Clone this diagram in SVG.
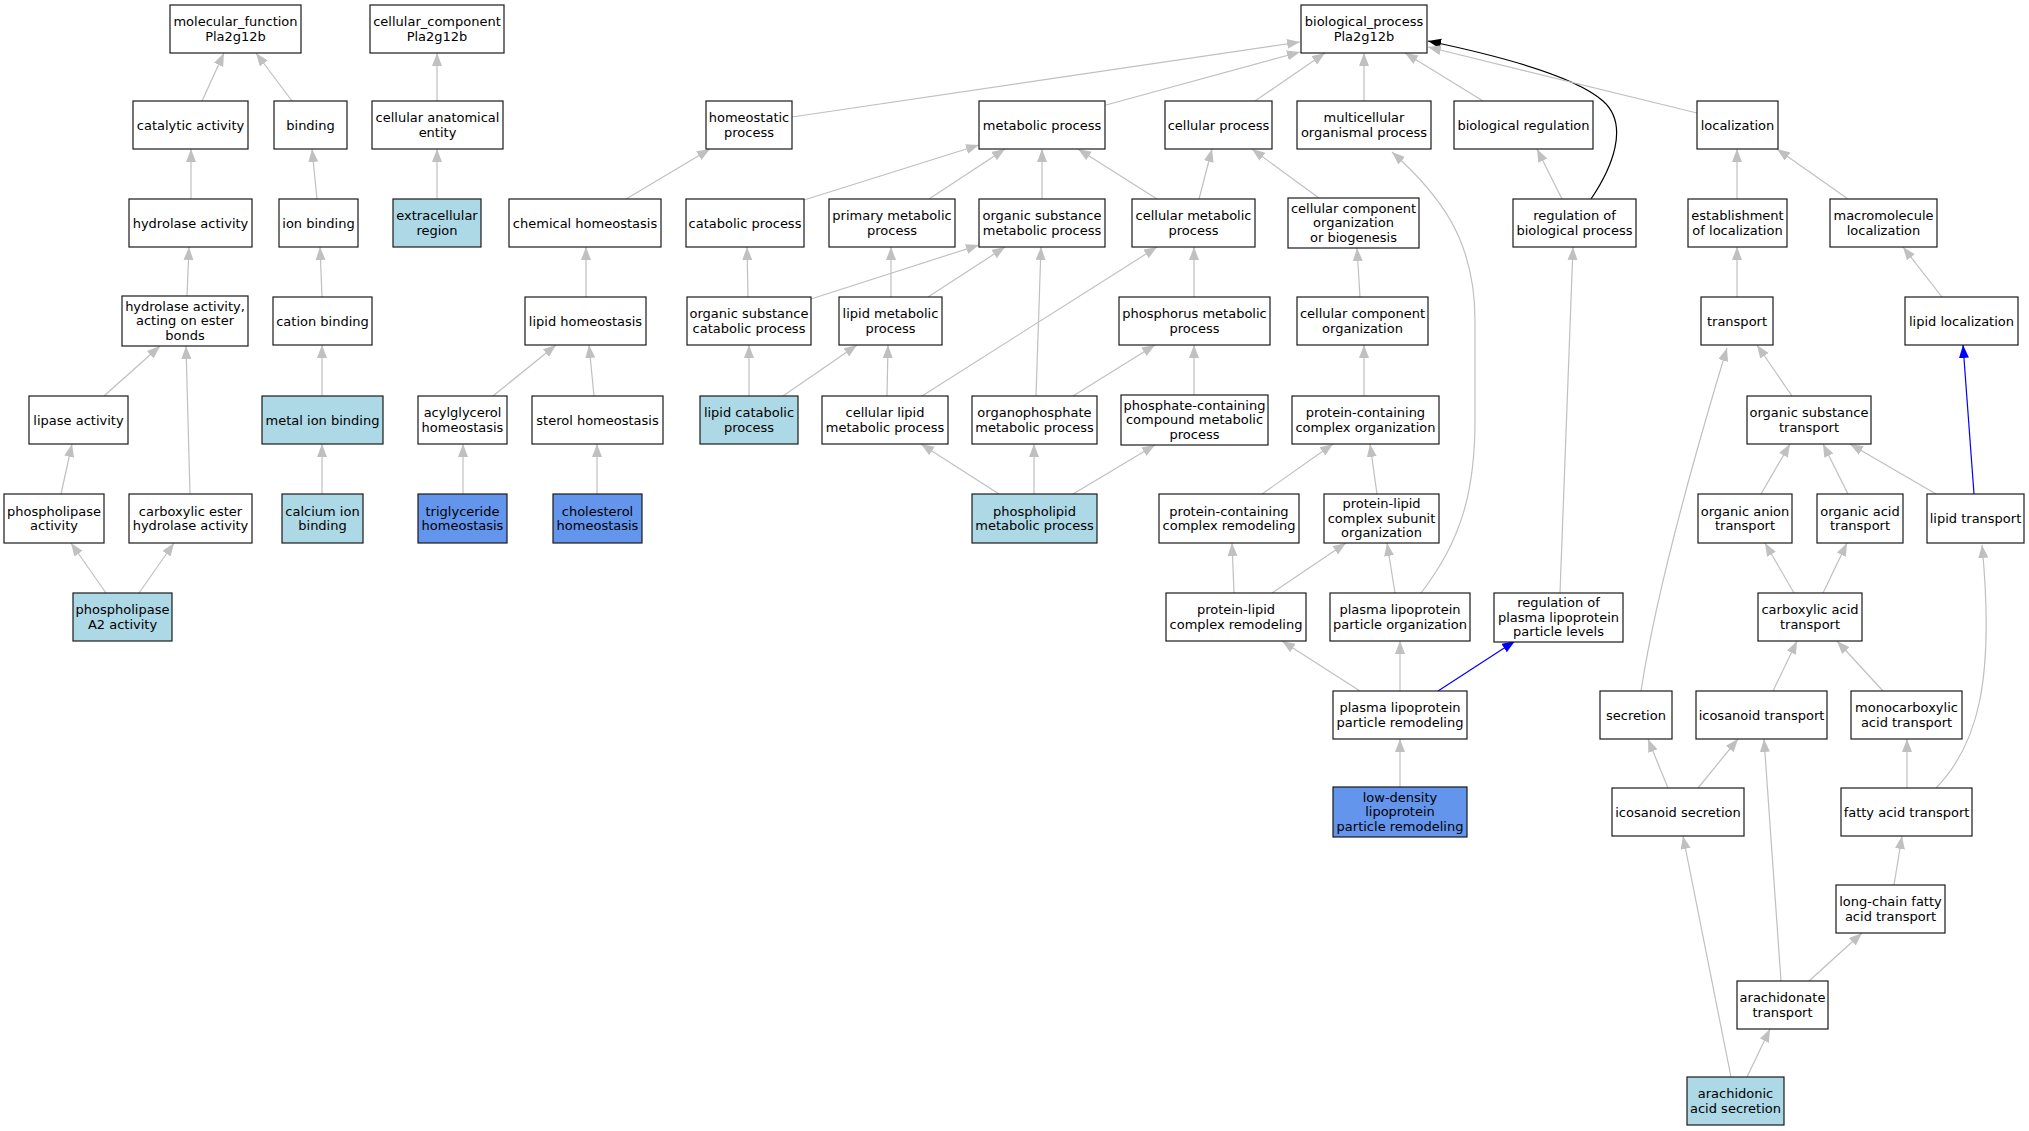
<svg xmlns="http://www.w3.org/2000/svg" width="2029" height="1131" viewBox="0 0 2029 1131">
<defs>
<style>
.node rect{fill:#ffffff;stroke:#1a1a1a;stroke-width:1.2}
.node.lb rect{fill:#add8e6}
.node.cb rect{fill:#6495ed}
.node text{font-family:"DejaVu Sans","Liberation Sans",sans-serif;font-size:13px;text-anchor:middle;fill:#000}
.edges path{fill:none;stroke:#c0c0c0;stroke-width:1.2;marker-end:url(#ag)}
.edges path.blue{stroke:#0000ff;marker-end:url(#ab)}
.edges path.black{stroke:#000000;marker-end:url(#ak)}
</style>
<marker id="ag" markerUnits="userSpaceOnUse" markerWidth="14" markerHeight="11" refX="13" refY="5" orient="auto"><path d="M0,0 L13,5 L0,10 z" fill="#c0c0c0"/></marker>
<marker id="ab" markerUnits="userSpaceOnUse" markerWidth="14" markerHeight="11" refX="13" refY="5" orient="auto"><path d="M0,0 L13,5 L0,10 z" fill="#0000ff"/></marker>
<marker id="ak" markerUnits="userSpaceOnUse" markerWidth="14" markerHeight="11" refX="13" refY="5" orient="auto"><path d="M0,0 L13,5 L0,10 z" fill="#000000"/></marker>
</defs>
<rect width="2029" height="1131" fill="#ffffff"/>
<g id="edges" class="edges">
<path d="M202,101 L224,53"/>
<path d="M292,101 L256,53"/>
<path d="M191,199 L191,149"/>
<path d="M317,199 L312,149"/>
<path d="M437,199 L437,149"/>
<path d="M437,101 L437,53"/>
<path d="M187,296 L189,247"/>
<path d="M322,297 L320,247"/>
<path d="M104,396 L160,346"/>
<path d="M190,494 L186,346"/>
<path d="M322,396 L322,345"/>
<path d="M61,494 L72,444"/>
<path d="M322,494 L322,444"/>
<path d="M106,593 L71,543"/>
<path d="M139,593 L174,543"/>
<path d="M792,117 L1300,42"/>
<path d="M626,199 L710,149"/>
<path d="M586,297 L586,247"/>
<path d="M493,396 L556,345"/>
<path d="M594,396 L589,345"/>
<path d="M463,494 L463,444"/>
<path d="M597,494 L597,444"/>
<path d="M1106,105 L1300,52"/>
<path d="M804,200 L979,145"/>
<path d="M929,199 L1005,149"/>
<path d="M1042,199 L1042,149"/>
<path d="M1157,199 L1078,149"/>
<path d="M748,297 L747,247"/>
<path d="M811,299 L979,245"/>
<path d="M891,297 L891,247"/>
<path d="M928,297 L1005,247"/>
<path d="M749,396 L749,345"/>
<path d="M783,396 L857,345"/>
<path d="M887,396 L888,345"/>
<path d="M922,396 L1157,247"/>
<path d="M1199,199 L1212,149"/>
<path d="M1255,101 L1325,53"/>
<path d="M1194,297 L1194,247"/>
<path d="M1036,396 L1041,247"/>
<path d="M1073,396 L1155,345"/>
<path d="M1194,395 L1194,345"/>
<path d="M999,494 L921,444"/>
<path d="M1034,494 L1034,444"/>
<path d="M1073,494 L1155,445"/>
<path d="M1319,198 L1252,149"/>
<path d="M1360,297 L1357,248"/>
<path d="M1364,396 L1364,345"/>
<path d="M1262,494 L1333,444"/>
<path d="M1377,494 L1370,444"/>
<path d="M1234,593 L1232,543"/>
<path d="M1272,593 L1346,543"/>
<path d="M1395,593 L1387,543"/>
<path d="M1421,593 C1462,540 1475,490 1475,420 L1475,320 C1475,240 1440,195 1392,152"/>
<path d="M1360,691 L1282,641"/>
<path d="M1400,691 L1400,641"/>
<path class="blue" d="M1438,691 L1515,641"/>
<path d="M1400,787 L1400,739"/>
<path d="M1483,101 L1405,53"/>
<path d="M1364,101 L1364,53"/>
<path d="M1562,199 L1537,149"/>
<path class="black" d="M1591,199 C1612,168 1630,125 1603,101 C1575,76 1500,56 1428,41"/>
<path d="M1560,593 L1573,247"/>
<path d="M1697,113 L1428,47"/>
<path d="M1737,199 L1737,149"/>
<path d="M1848,199 L1777,149"/>
<path d="M1737,297 L1737,247"/>
<path d="M1942,297 L1903,247"/>
<path class="blue" d="M1974,494 L1963,345"/>
<path d="M1792,396 L1757,345"/>
<path d="M1641,691 C1655,600 1690,470 1727,348"/>
<path d="M1761,494 L1790,444"/>
<path d="M1848,494 L1823,444"/>
<path d="M1936,494 L1850,444"/>
<path d="M1794,593 L1765,543"/>
<path d="M1823,593 L1847,543"/>
<path d="M1773,691 L1797,641"/>
<path d="M1883,691 L1837,641"/>
<path d="M1936,788 C1978,745 1995,680 1982,545"/>
<path d="M1907,788 L1907,739"/>
<path d="M1668,788 L1648,739"/>
<path d="M1698,788 L1738,739"/>
<path d="M1781,981 L1764,739"/>
<path d="M1894,885 L1902,836"/>
<path d="M1809,981 L1862,933"/>
<path d="M1731,1077 L1683,836"/>
<path d="M1747,1077 L1770,1029"/>
</g>
<g id="n_mf" class="node"><rect x="170" y="5" width="131" height="48"/><text><tspan x="235.5" y="26">molecular_function</tspan><tspan x="235.5" y="40.5">Pla2g12b</tspan></text></g>
<g id="n_cc" class="node"><rect x="370" y="5" width="134" height="48"/><text><tspan x="437" y="26">cellular_component</tspan><tspan x="437" y="40.5">Pla2g12b</tspan></text></g>
<g id="n_bp" class="node"><rect x="1301" y="5" width="126" height="48"/><text><tspan x="1364" y="26">biological_process</tspan><tspan x="1364" y="40.5">Pla2g12b</tspan></text></g>
<g id="n_catalytic" class="node"><rect x="133" y="101" width="115" height="48"/><text x="190.5" y="129.5">catalytic activity</text></g>
<g id="n_binding" class="node"><rect x="274" y="101" width="73" height="48"/><text x="310.5" y="129.5">binding</text></g>
<g id="n_cae" class="node"><rect x="372" y="101" width="131" height="48"/><text><tspan x="437.5" y="122">cellular anatomical</tspan><tspan x="437.5" y="136.5">entity</tspan></text></g>
<g id="n_homeostatic" class="node"><rect x="706" y="101" width="86" height="48"/><text><tspan x="749" y="122">homeostatic</tspan><tspan x="749" y="136.5">process</tspan></text></g>
<g id="n_metabolic" class="node"><rect x="979" y="101" width="126" height="48"/><text x="1042" y="129.5">metabolic process</text></g>
<g id="n_cellular" class="node"><rect x="1165" y="101" width="107" height="48"/><text x="1218.5" y="129.5">cellular process</text></g>
<g id="n_multicellular" class="node"><rect x="1297" y="101" width="134" height="48"/><text><tspan x="1364" y="122">multicellular</tspan><tspan x="1364" y="136.5">organismal process</tspan></text></g>
<g id="n_bioreg" class="node"><rect x="1454" y="101" width="139" height="48"/><text x="1523.5" y="129.5">biological regulation</text></g>
<g id="n_localization" class="node"><rect x="1697" y="101" width="81" height="48"/><text x="1737.5" y="129.5">localization</text></g>
<g id="n_hydrolase" class="node"><rect x="129" y="199" width="123" height="48"/><text x="190.5" y="227.5">hydrolase activity</text></g>
<g id="n_ionbinding" class="node"><rect x="279" y="199" width="79" height="48"/><text x="318.5" y="227.5">ion binding</text></g>
<g id="n_extracellular" class="node lb"><rect x="393" y="199" width="88" height="48"/><text><tspan x="437" y="220">extracellular</tspan><tspan x="437" y="234.5">region</tspan></text></g>
<g id="n_chemhomeo" class="node"><rect x="509" y="199" width="152" height="48"/><text x="585" y="227.5">chemical homeostasis</text></g>
<g id="n_catabolic" class="node"><rect x="686" y="199" width="118" height="48"/><text x="745" y="227.5">catabolic process</text></g>
<g id="n_primary" class="node"><rect x="829" y="199" width="126" height="48"/><text><tspan x="892" y="220">primary metabolic</tspan><tspan x="892" y="234.5">process</tspan></text></g>
<g id="n_orgsubmet" class="node"><rect x="979" y="199" width="126" height="48"/><text><tspan x="1042" y="220">organic substance</tspan><tspan x="1042" y="234.5">metabolic process</tspan></text></g>
<g id="n_cellmet" class="node"><rect x="1132" y="199" width="123" height="48"/><text><tspan x="1193.5" y="220">cellular metabolic</tspan><tspan x="1193.5" y="234.5">process</tspan></text></g>
<g id="n_ccob" class="node"><rect x="1288" y="198" width="131" height="50"/><text><tspan x="1353.5" y="212.5">cellular component</tspan><tspan x="1353.5" y="227">organization</tspan><tspan x="1353.5" y="241.5">or biogenesis</tspan></text></g>
<g id="n_regbio" class="node"><rect x="1513" y="199" width="123" height="48"/><text><tspan x="1574.5" y="220">regulation of</tspan><tspan x="1574.5" y="234.5">biological process</tspan></text></g>
<g id="n_estloc" class="node"><rect x="1688" y="199" width="99" height="48"/><text><tspan x="1737.5" y="220">establishment</tspan><tspan x="1737.5" y="234.5">of localization</tspan></text></g>
<g id="n_macroloc" class="node"><rect x="1830" y="199" width="107" height="48"/><text><tspan x="1883.5" y="220">macromolecule</tspan><tspan x="1883.5" y="234.5">localization</tspan></text></g>
<g id="n_hydester" class="node"><rect x="122" y="296" width="126" height="50"/><text><tspan x="185" y="310.5">hydrolase activity,</tspan><tspan x="185" y="325">acting on ester</tspan><tspan x="185" y="339.5">bonds</tspan></text></g>
<g id="n_cation" class="node"><rect x="273" y="297" width="99" height="48"/><text x="322.5" y="325.5">cation binding</text></g>
<g id="n_lipidhomeo" class="node"><rect x="525" y="297" width="121" height="48"/><text x="585.5" y="325.5">lipid homeostasis</text></g>
<g id="n_orgsubcat" class="node"><rect x="687" y="297" width="124" height="48"/><text><tspan x="749" y="318">organic substance</tspan><tspan x="749" y="332.5">catabolic process</tspan></text></g>
<g id="n_lipidmet" class="node"><rect x="839" y="297" width="103" height="48"/><text><tspan x="890.5" y="318">lipid metabolic</tspan><tspan x="890.5" y="332.5">process</tspan></text></g>
<g id="n_phosphorus" class="node"><rect x="1119" y="297" width="151" height="48"/><text><tspan x="1194.5" y="318">phosphorus metabolic</tspan><tspan x="1194.5" y="332.5">process</tspan></text></g>
<g id="n_cco" class="node"><rect x="1297" y="297" width="131" height="48"/><text><tspan x="1362.5" y="318">cellular component</tspan><tspan x="1362.5" y="332.5">organization</tspan></text></g>
<g id="n_transport" class="node"><rect x="1701" y="297" width="72" height="48"/><text x="1737" y="325.5">transport</text></g>
<g id="n_lipidloc" class="node"><rect x="1905" y="297" width="113" height="48"/><text x="1961.5" y="325.5">lipid localization</text></g>
<g id="n_lipase" class="node"><rect x="29" y="396" width="99" height="48"/><text x="78.5" y="424.5">lipase activity</text></g>
<g id="n_metalion" class="node lb"><rect x="262" y="396" width="121" height="48"/><text x="322.5" y="424.5">metal ion binding</text></g>
<g id="n_acylglycerol" class="node"><rect x="418" y="396" width="89" height="48"/><text><tspan x="462.5" y="417">acylglycerol</tspan><tspan x="462.5" y="431.5">homeostasis</tspan></text></g>
<g id="n_sterol" class="node"><rect x="532" y="396" width="131" height="48"/><text x="597.5" y="424.5">sterol homeostasis</text></g>
<g id="n_lipidcat" class="node lb"><rect x="700" y="396" width="98" height="48"/><text><tspan x="749" y="417">lipid catabolic</tspan><tspan x="749" y="431.5">process</tspan></text></g>
<g id="n_celllipid" class="node"><rect x="822" y="396" width="126" height="48"/><text><tspan x="885" y="417">cellular lipid</tspan><tspan x="885" y="431.5">metabolic process</tspan></text></g>
<g id="n_organophos" class="node"><rect x="972" y="396" width="125" height="48"/><text><tspan x="1034.5" y="417">organophosphate</tspan><tspan x="1034.5" y="431.5">metabolic process</tspan></text></g>
<g id="n_phoscont" class="node"><rect x="1121" y="395" width="147" height="50"/><text><tspan x="1194.5" y="409.5">phosphate-containing</tspan><tspan x="1194.5" y="424">compound metabolic</tspan><tspan x="1194.5" y="438.5">process</tspan></text></g>
<g id="n_pcco" class="node"><rect x="1292" y="396" width="147" height="48"/><text><tspan x="1365.5" y="417">protein-containing</tspan><tspan x="1365.5" y="431.5">complex organization</tspan></text></g>
<g id="n_orgsubtrans" class="node"><rect x="1747" y="396" width="124" height="48"/><text><tspan x="1809" y="417">organic substance</tspan><tspan x="1809" y="431.5">transport</tspan></text></g>
<g id="n_phospholipase" class="node"><rect x="4" y="494" width="100" height="49"/><text><tspan x="54" y="515.5">phospholipase</tspan><tspan x="54" y="530">activity</tspan></text></g>
<g id="n_carbester" class="node"><rect x="129" y="494" width="123" height="49"/><text><tspan x="190.5" y="515.5">carboxylic ester</tspan><tspan x="190.5" y="530">hydrolase activity</tspan></text></g>
<g id="n_calcium" class="node lb"><rect x="282" y="494" width="81" height="49"/><text><tspan x="322.5" y="515.5">calcium ion</tspan><tspan x="322.5" y="530">binding</tspan></text></g>
<g id="n_triglyceride" class="node cb"><rect x="418" y="494" width="89" height="49"/><text><tspan x="462.5" y="515.5">triglyceride</tspan><tspan x="462.5" y="530">homeostasis</tspan></text></g>
<g id="n_cholesterol" class="node cb"><rect x="553" y="494" width="89" height="49"/><text><tspan x="597.5" y="515.5">cholesterol</tspan><tspan x="597.5" y="530">homeostasis</tspan></text></g>
<g id="n_phospholipid" class="node lb"><rect x="972" y="494" width="125" height="49"/><text><tspan x="1034.5" y="515.5">phospholipid</tspan><tspan x="1034.5" y="530">metabolic process</tspan></text></g>
<g id="n_pccr" class="node"><rect x="1159" y="494" width="140" height="49"/><text><tspan x="1229" y="515.5">protein-containing</tspan><tspan x="1229" y="530">complex remodeling</tspan></text></g>
<g id="n_plcso" class="node"><rect x="1324" y="494" width="115" height="49"/><text><tspan x="1381.5" y="508">protein-lipid</tspan><tspan x="1381.5" y="522.5">complex subunit</tspan><tspan x="1381.5" y="537">organization</tspan></text></g>
<g id="n_organion" class="node"><rect x="1698" y="494" width="94" height="49"/><text><tspan x="1745" y="515.5">organic anion</tspan><tspan x="1745" y="530">transport</tspan></text></g>
<g id="n_orgacid" class="node"><rect x="1817" y="494" width="86" height="49"/><text><tspan x="1860" y="515.5">organic acid</tspan><tspan x="1860" y="530">transport</tspan></text></g>
<g id="n_lipidtrans" class="node"><rect x="1927" y="494" width="97" height="49"/><text x="1975.5" y="523">lipid transport</text></g>
<g id="n_pla2" class="node lb"><rect x="73" y="593" width="99" height="48"/><text><tspan x="122.5" y="614">phospholipase</tspan><tspan x="122.5" y="628.5">A2 activity</tspan></text></g>
<g id="n_plcr" class="node"><rect x="1166" y="593" width="140" height="48"/><text><tspan x="1236" y="614">protein-lipid</tspan><tspan x="1236" y="628.5">complex remodeling</tspan></text></g>
<g id="n_plpo" class="node"><rect x="1330" y="593" width="140" height="48"/><text><tspan x="1400" y="614">plasma lipoprotein</tspan><tspan x="1400" y="628.5">particle organization</tspan></text></g>
<g id="n_regplp" class="node"><rect x="1494" y="593" width="129" height="49"/><text><tspan x="1558.5" y="607">regulation of</tspan><tspan x="1558.5" y="621.5">plasma lipoprotein</tspan><tspan x="1558.5" y="636">particle levels</tspan></text></g>
<g id="n_carbacid" class="node"><rect x="1758" y="593" width="104" height="48"/><text><tspan x="1810" y="614">carboxylic acid</tspan><tspan x="1810" y="628.5">transport</tspan></text></g>
<g id="n_plpr" class="node"><rect x="1333" y="691" width="134" height="48"/><text><tspan x="1400" y="712">plasma lipoprotein</tspan><tspan x="1400" y="726.5">particle remodeling</tspan></text></g>
<g id="n_secretion" class="node"><rect x="1600" y="691" width="72" height="48"/><text x="1636" y="719.5">secretion</text></g>
<g id="n_icotrans" class="node"><rect x="1696" y="691" width="131" height="48"/><text x="1761.5" y="719.5">icosanoid transport</text></g>
<g id="n_monocarb" class="node"><rect x="1851" y="691" width="111" height="48"/><text><tspan x="1906.5" y="712">monocarboxylic</tspan><tspan x="1906.5" y="726.5">acid transport</tspan></text></g>
<g id="n_ldl" class="node cb"><rect x="1333" y="787" width="134" height="50"/><text><tspan x="1400" y="801.5">low-density</tspan><tspan x="1400" y="816">lipoprotein</tspan><tspan x="1400" y="830.5">particle remodeling</tspan></text></g>
<g id="n_icosec" class="node"><rect x="1612" y="788" width="132" height="48"/><text x="1678" y="816.5">icosanoid secretion</text></g>
<g id="n_fatty" class="node"><rect x="1841" y="788" width="131" height="48"/><text x="1906.5" y="816.5">fatty acid transport</text></g>
<g id="n_longchain" class="node"><rect x="1836" y="885" width="109" height="48"/><text><tspan x="1890.5" y="906">long-chain fatty</tspan><tspan x="1890.5" y="920.5">acid transport</tspan></text></g>
<g id="n_arachidonate" class="node"><rect x="1737" y="981" width="91" height="48"/><text><tspan x="1782.5" y="1002">arachidonate</tspan><tspan x="1782.5" y="1016.5">transport</tspan></text></g>
<g id="n_arasec" class="node lb"><rect x="1687" y="1077" width="97" height="48"/><text><tspan x="1735.5" y="1098">arachidonic</tspan><tspan x="1735.5" y="1112.5">acid secretion</tspan></text></g>
</svg>
